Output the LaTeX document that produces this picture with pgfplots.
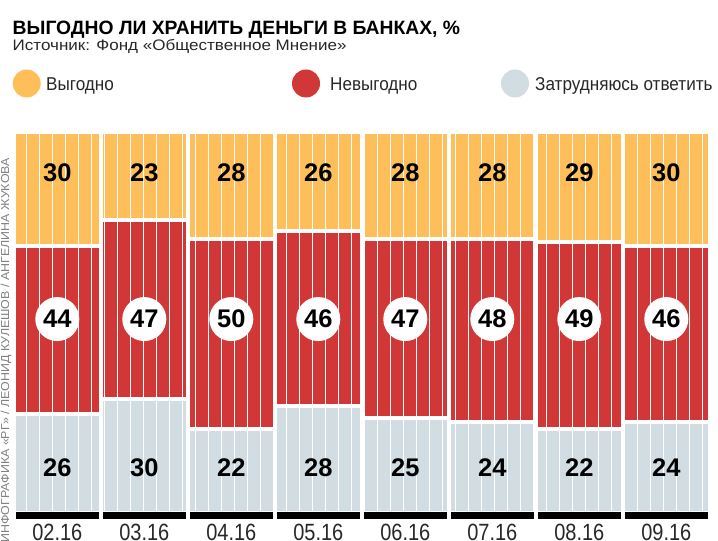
\documentclass[border=0pt]{standalone}
\usepackage{pgfplots}
\pgfplotsset{compat=1.18}
\usepackage{pgfplotstable}
\usepackage{fontspec}
\setmainfont{Liberation Sans}
\newfontfamily\cond[FakeStretch=0.85]{Liberation Sans}
\newfontfamily\legf[FakeStretch=0.92]{Liberation Sans}
\newfontfamily\subf[FakeStretch=1.12]{Liberation Sans}
\newfontfamily\sidef[FakeStretch=1.08]{Liberation Sans}
\definecolor{cyel}{RGB}{254,191,91}
\definecolor{cred}{RGB}{210,55,55}
\definecolor{cgry}{RGB}{209,220,227}
\definecolor{ctxt}{RGB}{40,40,40}
\pgfplotstableread{
x yes no hard
0 30 44 26
1 23 47 30
2 28 50 22
3 26 46 28
4 28 47 25
5 28 48 24
6 29 49 22
7 30 46 24
}\data
\begin{document}
\begin{tikzpicture}[x=1pt,y=1pt]
\useasboundingbox (0,0) rectangle (718,541);
\fill[white] (0,0) rectangle (718,541);
% bars
\begin{axis}[at={(13.8pt,28pt)}, anchor=south west, scale only axis,
  width=696pt, height=381pt, xmin=-0.5, xmax=7.5, ymin=0, ymax=100,
  ybar stacked, bar width=1, clip=false,
  axis line style={draw=none}, major tick length=0pt,
  ytick=\empty, xtick={0,...,7},
  xticklabels={02.16,03.16,04.16,05.16,06.16,07.16,08.16,09.16},
  xticklabel style={anchor=base, yshift=-28pt, text=ctxt, font=\cond\fontsize{23.5}{24}\selectfont}]
\addplot[fill=cgry, draw=white, line width=4pt] table[x=x,y=hard]{\data};
\addplot[fill=cred, draw=white, line width=4pt] table[x=x,y=no]{\data};
\addplot[fill=cyel, draw=white, line width=4pt] table[x=x,y=yes]{\data};
\end{axis}
% stripes, base strips and value labels
\begin{axis}[at={(13.8pt,28pt)}, anchor=south west, scale only axis,
  width=696pt, height=381pt, xmin=-0.5, xmax=7.5, ymin=0, ymax=100,
  hide axis, clip=false]
\pgfplotsinvokeforeach{0,...,52}{
  \draw[white, line width=1.2pt] (axis cs:{-0.3517+0.14943*#1},0) -- (axis cs:{-0.3517+0.14943*#1},100);
}
\pgfplotsinvokeforeach{0,...,7}{
  \fill[black] (axis cs:{#1-0.477},0.26) rectangle (axis cs:{#1+0.477},-1.7);
}
\addplot[draw=none, nodes near coords, point meta=explicit symbolic,
  every node near coord/.append style={anchor=center, text=black, font=\bfseries\fontsize{25.5}{26}\selectfont}]
  table[x=x, y expr=89.4, meta=yes]{\data};
\addplot[draw=none, nodes near coords, point meta=explicit symbolic,
  every node near coord/.append style={anchor=center, circle, fill=white, inner sep=0pt, minimum size=44pt, text=black, font=\bfseries\fontsize{25.5}{26}\selectfont}]
  table[x=x, y expr=50.9, meta=no]{\data};
\addplot[draw=none, nodes near coords, point meta=explicit symbolic,
  every node near coord/.append style={anchor=center, text=black, font=\bfseries\fontsize{25.5}{26}\selectfont}]
  table[x=x, y expr=11.8, meta=hard]{\data};
\end{axis}
% title and subtitle
\node[anchor=base west, inner sep=0pt] at (12.5,541-35) {\bfseries\fontsize{19.3}{20}\selectfont ВЫГОДНО ЛИ ХРАНИТЬ ДЕНЬГИ В БАНКАХ, \%};
\node[anchor=base west, inner sep=0pt, text=ctxt] at (12.5,541-51) {\subf\fontsize{15.2}{17}\selectfont Источник: Фонд «Общественное Мнение»};
% legend
\fill[cyel] (26.7,541-83.5) circle (14);
\node[anchor=base west, inner sep=0pt, text=ctxt] at (46,541-90.7) {\legf\fontsize{18.6}{20}\selectfont Выгодно};
\fill[cred] (306,541-83.5) circle (14);
\node[anchor=base west, inner sep=0pt, text=ctxt] at (330,541-90.7) {\legf\fontsize{18.6}{20}\selectfont Невыгодно};
\fill[cgry] (515,541-83.5) circle (14);
\node[anchor=base west, inner sep=0pt, text=ctxt] at (535,541-90.7) {\legf\fontsize{18.6}{20}\selectfont Затрудняюсь ответить};
% side credit
\node[rotate=90, anchor=base east, inner sep=0pt, text=gray] at (9,541-158) {\sidef\fontsize{11.5}{12}\selectfont ИНФОГРАФИКА «РГ» / ЛЕОНИД КУЛЕШОВ / АНГЕЛИНА ЖУКОВА};
\end{tikzpicture}
\end{document}
